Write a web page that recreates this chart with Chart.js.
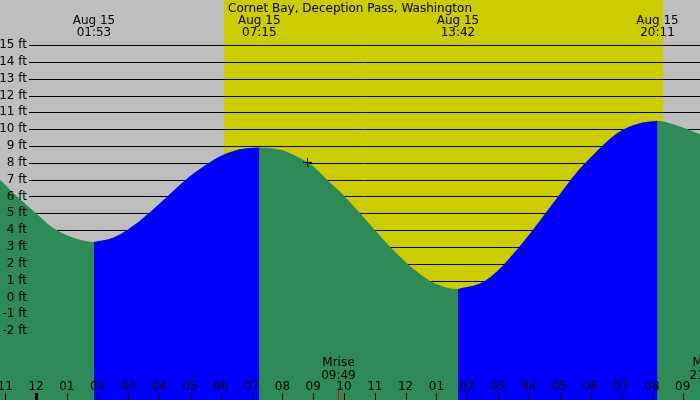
<!DOCTYPE html>
<html><head><meta charset="utf-8">
<script src="https://cdn.jsdelivr.net/npm/chart.js@4"></script>
<style>body{margin:0;background:#fff}</style>
</head><body>
<canvas id="tide" width="700" height="400"></canvas>
<script>
// hours since midnight Aug 15, tide height in ft
const hours = [-1.17,-0.5,0,0.5,1,1.5,1.88,2.5,3,3.5,4,4.5,5,5.5,6,6.5,7,7.25,8,8.5,9,9.5,10,10.5,11,11.5,12,12.5,13,13.7,14.5,15,15.5,16,16.5,17,17.5,18,18.5,19,19.5,20.18,20.5,21,21.56];
const heights = [7.0,5.8,5.0,4.2,3.7,3.4,3.3,3.55,4.05,4.75,5.55,6.4,7.2,7.85,8.4,8.75,8.88,8.9,8.75,8.35,7.8,6.9,6.05,5.05,4.0,3.0,2.1,1.35,0.8,0.5,0.9,1.6,2.6,3.7,4.9,6.1,7.3,8.3,9.2,9.9,10.3,10.5,10.4,10.1,9.7];
const extremes = [{h:1.88,t:'01:53'},{h:7.25,t:'07:15'},{h:13.7,t:'13:42'},{h:20.18,t:'20:11'}];
const rising = [[1.88,7.25],[13.7,20.18]];
const daylight = [6.1,20.36];
const yTicks = [15,14,13,12,11,10,9,8,7,6,5,4,3,2,1,0,-1,-2];
const hourLabels = ['11','12','01','02','03','04','05','06','07','08','09','10','11','12','01','02','03','04','05','06','07','08','09'];
const hourStart = -1;
const moon = [{h:9.82,name:'Mrise',t:'09:49'},{h:21.78,name:'Mset',t:'21:47'}];

const pts = hours.map((h,i)=>({x:h,y:heights[i]}));
const seg = r => pts.filter(p=>p.x>=r[0]&&p.x<=r[1]);
const FONT = '12px "DejaVu Sans"';

const decor = {
  id:'decor',
  beforeDatasetsDraw(c){
    const {ctx, scales:{x,y}} = c;
    ctx.save();
    ctx.fillStyle = '#bebebe'; ctx.fillRect(0,0,700,400);
    ctx.fillStyle = '#cccc00';
    ctx.fillRect(x.getPixelForValue(daylight[0]),0,x.getPixelForValue(daylight[1])-x.getPixelForValue(daylight[0]),400);
    ctx.strokeStyle = '#000'; ctx.lineWidth = 1;
    yTicks.forEach(v=>{
      const py = Math.round(y.getPixelForValue(v))+0.5;
      ctx.beginPath(); ctx.moveTo(29,py); ctx.lineTo(700,py); ctx.stroke();
    });
    ctx.restore();
  },
  afterDatasetsDraw(c){
    const {ctx, scales:{x,y}} = c;
    ctx.save();
    ctx.font = FONT; ctx.fillStyle = '#000';
    ctx.textAlign = 'right'; ctx.textBaseline = 'middle';
    yTicks.forEach(v=>ctx.fillText(v+' ft',27,y.getPixelForValue(v)));
    ctx.textAlign = 'center'; ctx.textBaseline = 'alphabetic';
    ctx.fillText('Cornet Bay, Deception Pass, Washington',350,12);
    extremes.forEach(e=>{
      const px = x.getPixelForValue(e.h);
      ctx.fillText('Aug 15',px,24); ctx.fillText(e.t,px,36);
    });
    moon.forEach(m=>{
      const px = x.getPixelForValue(m.h);
      ctx.fillText(m.name,px,366); ctx.fillText(m.t,px,379);
      ctx.fillStyle='#ff0000'; ctx.fillRect(Math.round(px),390,1,10); ctx.fillStyle='#000';
    });
    hourLabels.forEach((l,i)=>{
      const px = x.getPixelForValue(hourStart+i);
      ctx.fillText(l,px,390);
      ctx.fillRect(Math.round(px)-(i===1?1:0),393,i===1?3:1,7);
    });
    // marker
    const mx = x.getPixelForValue(8.8), my = y.getPixelForValue(8.05);
    ctx.fillRect(mx-4,my,9,1); ctx.fillRect(mx,my-4,1,9);
    ctx.restore();
  }
};

new Chart(document.getElementById('tide'),{
  type:'scatter',
  data:{datasets:[
    {data:pts,order:2,showLine:true,fill:'start',backgroundColor:'#2e8b57',borderWidth:0,pointRadius:0,cubicInterpolationMode:'monotone'},
    {data:seg(rising[0]),order:1,showLine:true,fill:'start',backgroundColor:'#0000ff',borderWidth:0,pointRadius:0,cubicInterpolationMode:'monotone'},
    {data:seg(rising[1]),order:1,showLine:true,fill:'start',backgroundColor:'#0000ff',borderWidth:0,pointRadius:0,cubicInterpolationMode:'monotone'}
  ]},
  options:{
    responsive:false,animation:false,
    layout:{padding:0},
    plugins:{legend:{display:false},tooltip:{enabled:false}},
    scales:{
      x:{type:'linear',min:-1.17,max:21.56,display:false},
      y:{min:-6.1,max:17.68,display:false}
    }
  },
  plugins:[decor]
});
</script>
</body></html>
